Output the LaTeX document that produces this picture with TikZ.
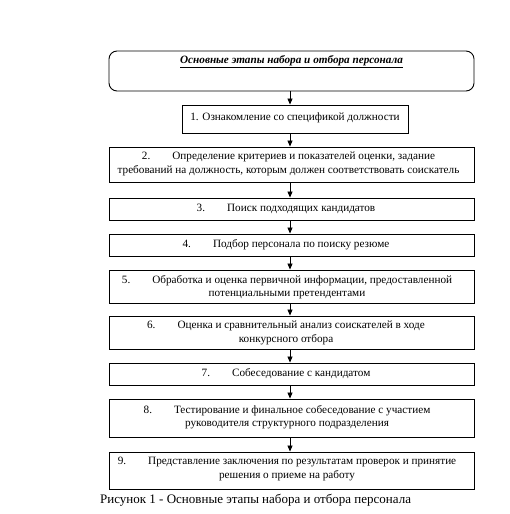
\documentclass[tikz,border=0pt]{standalone}
\usepackage{fontspec}
\setmainfont{Liberation Serif}
\usetikzlibrary{arrows.meta}
\newcommand{\tb}{\hspace{22bp}}
\begin{document}
\begin{tikzpicture}[x=1bp,y=-1bp,
  wbox/.style={draw=black, line width=0.9bp, minimum width=365bp, inner sep=0pt},
  btxt/.style={font=\fontsize{11.2bp}{13.5bp}\selectfont, align=center, inner sep=0pt},
  arr/.style={draw=black, line width=0.8bp, -{Triangle[length=6bp,width=5bp]}}]
\useasboundingbox (0,0) rectangle (510,514);
% title box
\node[wbox, rounded corners=8bp, minimum height=40bp] (top) at (291.5,71) {};
\node[font=\fontsize{11.2bp}{13bp}\selectfont\bfseries\itshape, inner sep=0pt] (ttl) at (291.5,62) {\underline{Основные этапы набора и отбора персонала}};
% box 1
\node[draw=black, line width=0.9bp, minimum width=226bp, minimum height=28bp, inner sep=0pt] (b1) at (295,119) {};
\node[btxt] (t1) at (295,118) {1. Ознакомление со спецификой должности};
% box 2
\node[wbox, minimum height=35bp] (b2) at (291.5,164.5) {};
\node[btxt] (t2) at (288.5,164) {2.\tb Определение критериев и показателей оценки, задание\\требований на должность, которым должен соответствовать соискатель};
% box 3
\node[wbox, minimum height=22bp] (b3) at (291.5,209) {};
\node[btxt] (t3) at (286,209) {3.\tb Поиск подходящих кандидатов};
% box 4
\node[wbox, minimum height=22bp] (b4) at (291.5,245) {};
\node[btxt] (t4) at (286,245) {4.\tb Подбор персонала по поиску резюме};
% box 5
\node[wbox, minimum height=33bp] (b5) at (291.5,286.5) {};
\node[btxt] (t5) at (287,287) {5.\tb Обработка и оценка первичной информации, предоставленной\\потенциальными претендентами};
% box 6
\node[wbox, minimum height=33bp] (b6) at (291.5,332.5) {};
\node[btxt] (t6) at (286,333) {6.\tb Оценка и сравнительный анализ соискателей в ходе\\конкурсного отбора};
% box 7
\node[wbox, minimum height=22bp] (b7) at (291.5,374) {};
\node[btxt] (t7) at (286,374) {7.\tb Собеседование с кандидатом};
% box 8
\node[wbox, minimum height=38bp] (b8) at (291.5,418) {};
\node[btxt] (t8) at (287,417) {8.\tb Тестирование и финальное собеседование с участием\\руководителя структурного подразделения};
% box 9
\node[wbox, minimum height=37bp] (b9) at (291.5,470.5) {};
\node[btxt] (t9) at (287,469) {9.\tb Представление заключения по результатам проверок и принятие\\решения о приеме на работу};
% caption
\node[anchor=west, font=\fontsize{13bp}{15bp}\selectfont, inner sep=0pt] (cap) at (100,500) {Рисунок 1 - Основные этапы набора и отбора персонала};
% arrows
\draw[arr] ([xshift=-1.5bp]top.south) -- ([xshift=-1.5bp]top.south |- b1.north);
\draw[arr] (b1.south -| top.south) ++(-1.5bp,0) coordinate (a1) -- (a1 |- b2.north);
\draw[arr] ([xshift=-1.5bp]b2.south) -- ([xshift=-1.5bp]b3.north);
\draw[arr] ([xshift=-1.5bp]b3.south) -- ([xshift=-1.5bp]b4.north);
\draw[arr] ([xshift=-1.5bp]b4.south) -- ([xshift=-1.5bp]b5.north);
\draw[arr] ([xshift=-1.5bp]b5.south) -- ([xshift=-1.5bp]b6.north);
\draw[arr] ([xshift=-1.5bp]b6.south) -- ([xshift=-1.5bp]b7.north);
\draw[arr] ([xshift=-1.5bp]b7.south) -- ([xshift=-1.5bp]b8.north);
\draw[arr] ([xshift=-1.5bp]b8.south) -- ([xshift=-1.5bp]b9.north);
\end{tikzpicture}
\end{document}
